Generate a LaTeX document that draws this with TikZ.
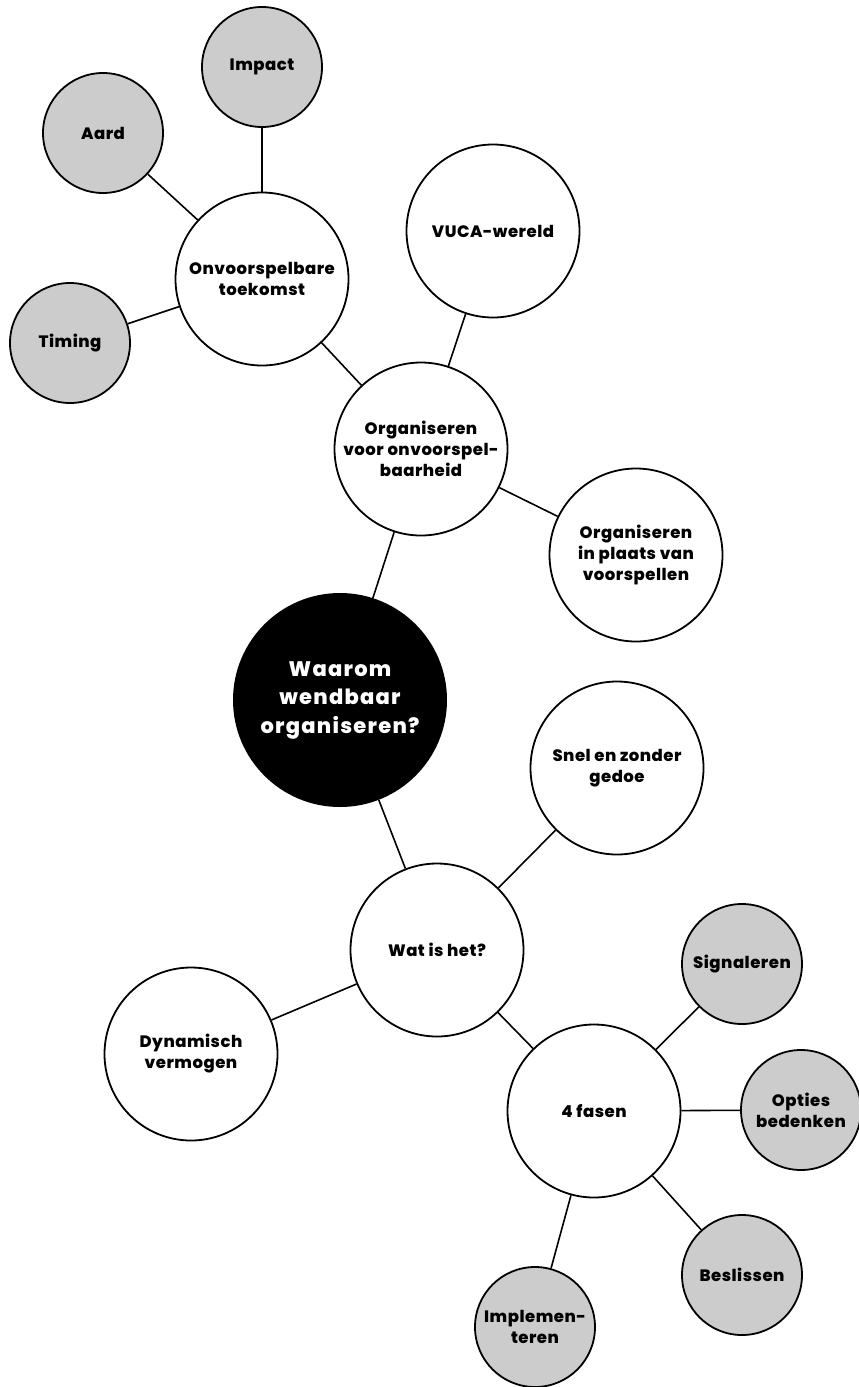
\documentclass[tikz,border=0pt]{standalone}
\usepackage{fontspec}
\setmainfont{Poppins}[LetterSpace=3,BoldFont={Poppins ExtraBold}]
\newfontfamily\titlefont{Poppins}[LetterSpace=6,BoldFont={Poppins ExtraBold}]
\usepackage{tikz}
\usetikzlibrary{positioning}
\definecolor{mygray}{HTML}{CCCCCC}

\begin{document}
\begin{tikzpicture}[x=1pt,y=-1pt]
	\tikzstyle{link} = [black, line width=1.6pt]
	\tikzstyle{topic} = [circle, draw=black, line width=1.8pt, fill=white, minimum size=173pt, align=center, inner sep=0, font=\bfseries\fontsize{16.5}{21}\selectfont]
	\tikzstyle{leaf} = [topic, fill=mygray, minimum size=120pt]
	\tikzstyle{hub} = [circle, fill=black, text=white, minimum size=214pt, align=center, inner sep=0, font=\titlefont\bfseries\fontsize{21}{28.5}\selectfont]
	\useasboundingbox (0,0) rectangle (859,1387);
	
	\node [hub] (waarom) at (340,700) {Waarom\\wendbaar\\organiseren?};
	
	\node [topic] (orgvoor) at (421,449) {Organiseren\\voor onvoorspel-\\baarheid};
	\node [topic] (onvoorsp) at (262,279) {Onvoorspelbare\\toekomst};
	\node [topic] (vuca) at (493,231) {VUCA-wereld};
	\node [topic] (orgplaats) at (636,555) {Organiseren\\in plaats van\\voorspellen};
	
	\node [leaf] (impact) at (262,67) {Impact};
	\node [leaf] (aard) at (103,133) {Aard};
	\node [leaf] (timing) at (70,343) {Timing};
	
	\draw [link] (impact) edge (onvoorsp);
	\draw [link] (aard) edge (onvoorsp);
	\draw [link] (timing) edge (onvoorsp);
	\draw [link] (onvoorsp) edge (orgvoor);
	\draw [link] (vuca) edge (orgvoor);
	\draw [link] (orgplaats) edge (orgvoor);
	\draw [link] (orgvoor) edge (waarom);
	
	\node [topic] (watis) at (437,950) {Wat is het?};
	\node [topic] (snel) at (617,768) {Snel en zonder\\gedoe};
	\node [topic] (dynamisch) at (191,1054) {Dynamisch\\vermogen};
	\node [topic] (fasen) at (594,1111) {4 fasen};
	
	\node [leaf] (signaleren) at (742,964) {Signaleren};
	\node [leaf] (opties) at (801,1110) {Opties\\bedenken};
	\node [leaf] (beslissen) at (742,1275) {Beslissen};
	\node [leaf] (implementeren) at (535,1327) {Implemen-\\teren};
	
	\draw [link] (waarom) edge (watis);
	\draw [link] (snel) edge (watis);
	\draw [link] (dynamisch) edge (watis);
	\draw [link] (watis) edge (fasen);
	\draw [link] (fasen) edge (signaleren);
	\draw [link] (fasen) edge (opties);
	\draw [link] (fasen) edge (beslissen);
	\draw [link] (fasen) edge (implementeren);
\end{tikzpicture}
\end{document}
